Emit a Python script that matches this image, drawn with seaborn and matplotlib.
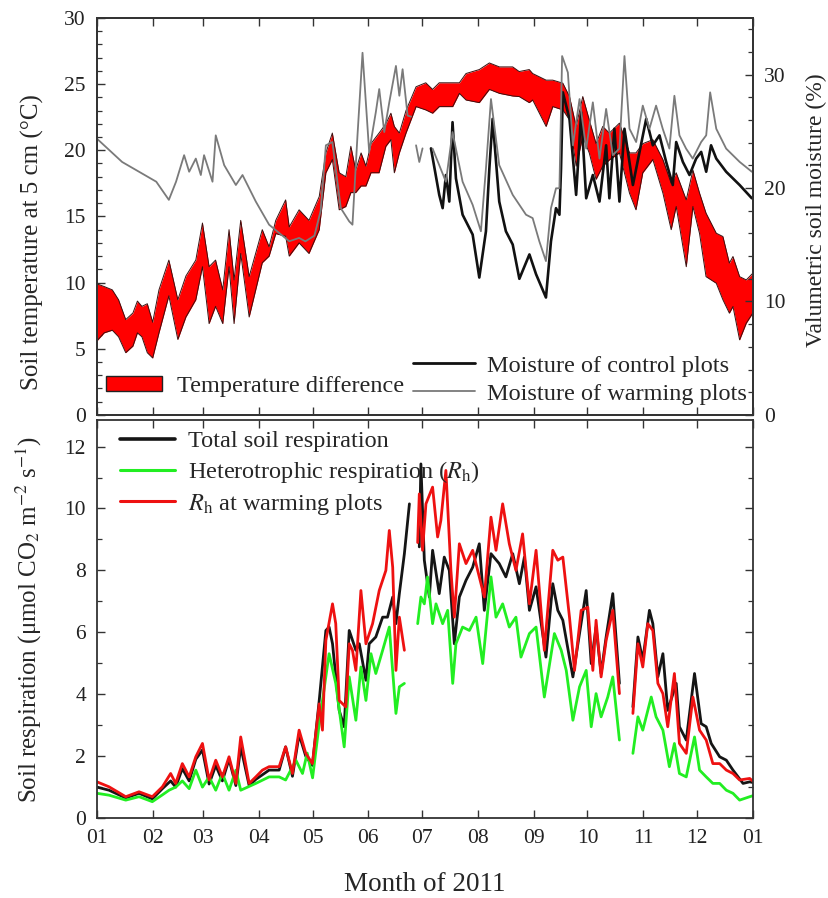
import numpy as np
import pandas as pd
import matplotlib
matplotlib.use("Agg")
import matplotlib.pyplot as plt
import seaborn as sns
from matplotlib.lines import Line2D
from matplotlib.patches import Patch
from matplotlib.ticker import MultipleLocator

nan = np.nan

# ---------------- x axis: months of 2011 (day of year) ----------------
month_days = [0, 31, 59, 90, 120, 151, 181, 212, 243, 273, 304, 334, 365]
month_labels = ["01", "02", "03", "04", "05", "06", "07", "08", "09", "10", "11", "12", "01"]

# ---------------- soil temperature at 5 cm (deg C) ----------------
temp_days = [0, 4, 8.5, 12, 16, 20, 22.5, 25, 28, 31, 34.5, 40, 45, 49.5, 55, 58.7, 62.4, 66, 70,
             73.5, 76.3, 80, 84.7, 92, 95.8, 99.5, 105, 107, 112.5, 118, 123.7, 127.4, 131, 134.8,
             138.5, 141.3, 144, 147, 149.7, 152.5, 157, 160.8, 163.6, 165.5, 168.3, 172, 177.6, 183,
             186.8, 190.5, 198, 201.7, 205.4, 212.8, 218.4, 224, 231.4, 235, 240.6, 242.5, 250,
             253.7, 259.3, 263, 266.7, 270.4, 274, 277.8, 281.5, 285.2, 290.8, 296.4, 300, 303.8,
             309.4, 315, 319.6, 322.4, 328, 331.7, 335.4, 339, 344.7, 348.4, 352, 354, 357.7, 361.4, 365]
temp_warming = [9.9, 9.7, 9.45, 8.7, 7.2, 7.7, 8.6, 8.2, 8.4, 7.0, 9.45, 11.7, 8.7, 10.5, 11.7, 14.5,
                11.2, 11.7, 9.45, 14.0, 10.2, 14.7, 10.45, 14.0, 12.7, 14.7, 16.25, 14.2, 15.5, 14.7,
                16.5, 19.8, 21.3, 18.3, 18.0, 20.3, 18.5, 19.8, 18.8, 20.5, 21.3, 22.0, 22.8, 21.8,
                21.3, 23.0, 24.8, 25.1, 24.6, 25.1, 25.1, 25.1, 25.8, 26.1, 26.6, 26.3, 26.3, 25.95,
                26.1, 25.8, 25.3, 25.3, 25.07, 24.06, 21.8, 24.06, 22.3, 20.5, 21.8, 21.3, 22.05, 19.8,
                19.8, 20.5, 20.8, 19.3, 17.5, 18.3, 16.25, 18.5, 16.76, 15.25, 13.73, 13.48, 11.47,
                11.97, 10.45, 10.2, 10.7]
temp_control = [5.6, 6.2, 6.4, 5.9, 4.7, 5.2, 6.2, 5.9, 4.7, 4.3, 6.2, 9.0, 5.7, 7.4, 8.7, 11.2, 6.9,
                8.2, 6.9, 11.2, 6.9, 12.2, 7.4, 11.5, 12.0, 13.7, 13.5, 12.0, 13.0, 12.2, 14.0, 18.3,
                19.3, 15.5, 15.75, 16.8, 16.8, 17.3, 17.3, 18.3, 18.3, 20.3, 20.8, 18.3, 19.8, 21.3,
                23.3, 23.05, 22.8, 23.3, 23.3, 24.3, 23.8, 23.6, 24.6, 24.3, 24.1, 24.06, 23.6, 23.8,
                21.8, 23.3, 23.05, 22.3, 18.8, 21.04, 19.8, 17.8, 18.8, 19.27, 19.8, 16.76, 15.5, 18.3,
                19.3, 16.76, 14.0, 15.75, 11.2, 15.75, 13.7, 10.45, 9.95, 8.7, 7.69, 8.19, 5.67, 6.93, 7.69]

# ---------------- volumetric soil moisture (%)  (nan = gap) ----------------
moist_warm_days = [0, 14, 33, 40, 44, 48.5, 51.3, 55, 57.8, 59.6, 64.3, 66.1, 70.8, 77.3, 81, 88.4,
                   95.8, 107, 112.5, 116, 121, 124.5, 127.4, 131, 135.7, 140.4, 142.2, 145, 147.8,
                   151.5, 155.2, 157.1, 159.9, 162.7, 166.4, 168.3, 170.1, 172.9, 174.8, 176,
                   177.6, 179.4, 181.2, 184,
                   186.8, 194.2, 197.9, 203.5, 209.1, 213.7, 216.5, 219.3, 223.9, 231.4, 238.8, 242.5,
                   246.2, 249.9, 252.7, 255.5, 257.4, 258.9, 262.1, 264.9, 268.6, 272.3, 276, 279.7,
                   283.4, 287.1, 290.8, 293.6, 296.4, 300.1, 303.8, 307.5, 311.2, 314.9, 318.6, 321.4,
                   324.2, 327.9, 331.6, 336.3, 339.1, 341.3, 344.7, 350.2, 357.7, 364.5]
moist_warm = [24.35, 22.3, 20.56, 18.96, 20.56, 22.9, 21.44, 22.6, 21.15, 22.9, 20.56, 24.65, 22.02,
              20.27, 21.15, 18.81, 16.77, 15.31, 15.6, 15.3, 15.8, 18.0, 23.77, 24.06, 18.23, 17.06,
              16.77, 24.65, 31.93, 23.19, 26.69, 28.73, 24.94, 27.56, 30.77, 28.14, 30.48, 26.39,
              26.3, nan,
              23.77, 22.3, 23.5, nan,
              23.48, 20.56, 24.94, 20.56, 18.52, 16.19, 21.73, 27.85, 22.02, 19.4, 17.65, 17.35,
              15.31, 13.56, 18.23, 19.98, 19.98, 31.64, 30.19, 23.77, 27.85, 23.48, 27.56, 22.6,
              26.98, 22.9, 23.48, 31.64, 25.23, 24.06, 27.27, 25.23, 27.27, 25.23, 23.48, 28.14,
              24.65, 23.48, 22.6, 24.06, 24.65, 28.44, 25.23, 23.48, 22.31, 21.44]
moist_ctrl_days = [185.9, 190.5, 192.4, 194.2, 196.1, 197.9, 199.8, 203.5, 209.1, 212.8, 216.5,
                   218.4, 220.2, 223.9, 227.6, 231.4, 235.1, 240.7, 244.4, 249.9, 252.7, 255.5,
                   257.4, 258.3, 259.3, 263, 266.7, 269.5, 272.3, 276, 279.7, 283.4, 285.2, 288,
                   290.8, 293.6, 298.3, 302, 305.7, 309.4, 313.1, 316.8, 320.5, 322.4, 326.1, 329.8,
                   333.5, 336.3, 339.1, 341.8, 344.7, 350.2, 357.7, 364.5]
moist_ctrl = [23.5, 19.4, 18.23, 21.15, 18.81, 25.81, 20.85, 17.65, 15.9, 12.11, 16.19, 21.73, 26.1,
              18.81, 16.19, 15.02, 12.0, 14.15, 12.4, 10.35, 15.31, 18.23, 17.65, 21.73, 28.44, 26.1,
              19.4, 26.69, 19.1, 21.15, 18.81, 23.77, 19.1, 25.23, 18.81, 25.23, 20.27, 23.19, 26.1,
              23.77, 24.65, 22.31, 20.27, 24.06, 22.31, 21.15, 22.6, 23.19, 21.44, 23.77, 22.6,
              21.44, 20.27, 19.1]

# ---------------- soil respiration (umol CO2 m-2 s-1)  (nan = gap) ----------------
rs_total_days = [0, 6.7, 16, 23.4, 30.8, 36.4, 41, 43.8, 47.5, 51.3, 55, 58.7, 62.4, 66.1, 69.8,
                 73.5, 77.3, 80, 84.7, 88.4, 92.1, 95.8, 101.4, 105, 108.8, 112.5, 116.2, 119.9,
                 123.7, 127.4, 129.2, 131.1, 134.8, 137.6, 140.4, 144.1, 146, 149.7, 151.5, 155.2,
                 159, 161.7, 164.6, 166.4, 168.3, 171.1, 173.9, 176,
                 179.4, 180.3, 182.2, 185, 186.8, 190.5, 193.3, 196.1, 198.9, 201.7, 205.4, 209.1,
                 212.8, 215.6, 219.3, 223.9, 227.6, 231.4, 235.1, 237.9, 240.7, 244.4, 249.9, 253.7,
                 256.5, 259.3, 264.9, 267.7, 272.3, 275.1, 277.8, 280.6, 283.4, 287.1, 290.8, 294,
                 298.3, 301.1, 303.8, 307.5, 309.4, 312.2, 315, 317.7, 322.4, 324.2, 328, 332.6,
                 336.3, 339.1, 341.9, 346.6, 350.3, 354, 359.6, 363.3, 365]
rs_total = [1.0, 0.9, 0.65, 0.8, 0.62, 0.95, 1.2, 1.0, 1.6, 1.2, 1.9, 2.2, 1.1, 1.7, 1.2, 1.9, 1.05,
            2.3, 1.05, 1.25, 1.4, 1.55, 1.55, 2.3, 1.35, 2.7, 2.0, 1.7, 3.8, 6.06, 6.17, 5.63, 3.48,
            2.95, 6.06, 5.42, 5.63, 4.45, 5.63, 5.85, 6.49, 6.49, 7.14, 6.28, 7.25, 8.54, 10.15, nan,
            8.76, 11.44, 8.33, 7.14, 8.65, 7.25, 8.43, 8.0, 5.63, 7.14, 7.68, 8.1, 8.86, 6.71, 8.54,
            8.22, 7.79, 8.54, 7.57, 8.43, 6.71, 7.47, 5.2, 7.57, 6.71, 6.39, 4.56, 5.63, 7.35, 4.99,
            6.17, 4.67, 5.85, 7.25, 4.35, nan,
            3.59, 5.85, 5.1, 6.71, 6.28, 4.56, 5.31, 3.48, 4.35, 2.95, 2.52, 4.67, 3.05, 2.95, 2.41,
            1.98, 1.87, 1.55, 1.12, 1.17, 1.15]
rh_ctrl_days = [0, 6.7, 16, 23.4, 30.8, 36.4, 40.1, 43.8, 47.5, 51.3, 55, 58.7, 62.4, 66.1, 69.8,
                73.5, 77.3, 80, 88.4, 95.8, 101.4, 105, 110.7, 114.4, 117, 120, 123.7, 129.2, 132.9,
                137.6, 140.4, 144.1, 146.9, 149.7, 152.5, 155.2, 159, 162.7, 166.4, 168.3, 171.1, 175,
                178.5, 180.3, 182.2, 184, 186.8, 188.7, 192.4, 195.2, 198, 199.8, 203.5, 207.3, 211,
                214.7, 219.3, 222.1, 225.8, 229.5, 233.2, 236, 240.7, 244.4, 249, 254.6, 258.4,
                261.2, 264.9, 268.6, 272.3, 275.1, 277.8, 280.6, 284.3, 287.1, 290.8, 294,
                298.3, 301.1, 303.8, 308.5, 311.2, 315, 318.6, 321.4, 324.2, 328, 332.6, 335.4,
                339.1, 342.8, 346.6, 350.3, 354, 357.7, 363.3, 365]
rh_ctrl = [0.8, 0.74, 0.58, 0.69, 0.53, 0.75, 0.9, 1.0, 1.2, 0.95, 1.55, 1.0, 1.33, 0.9, 1.44, 0.9,
           1.55, 0.9, 1.12, 1.33, 1.33, 1.23, 1.87, 1.44, 2.1, 1.3, 3.05, 5.31, 4.35, 2.3, 4.56,
           3.16, 4.88, 3.8, 5.31, 4.67, 5.42, 6.17, 3.38, 4.24, 4.35, nan,
           6.28, 7.14, 6.92, 7.79, 6.28, 6.92, 6.28, 6.71, 4.35, 5.63, 6.17, 6.06, 6.49, 4.99,
           7.79, 6.49, 6.92, 6.17, 6.49, 5.2, 5.96, 6.17, 3.91, 5.96, 5.42, 4.77, 3.16, 4.24,
           4.77, 2.95, 4.02, 3.27, 3.91, 4.56, 2.52, nan,
           2.09, 3.27, 2.84, 3.91, 3.27, 2.84, 1.66, 2.41, 1.44, 1.33, 2.62, 1.55, 1.33, 1.12,
           1.12, 0.9, 0.8, 0.58, 0.69, 0.72]
rh_warm_days = [0, 6.7, 16, 23.4, 30.8, 36.4, 41, 43.8, 47.5, 51.3, 55, 58.7, 62.4, 66.1, 69.8,
                73.5, 77.3, 80, 84.7, 88.4, 92.1, 95.8, 101.4, 105, 108.8, 112.5, 116.2, 119.9,
                123.7, 125.5, 127.4, 131.1, 132.9, 134.8, 138.5, 140.4, 142.2, 144.1, 146.9, 149.7,
                153.4, 157.1, 160.8, 162.7, 164.6, 166.4, 168.3, 171.1, 175,
                178.5, 179.4, 181.2, 183.1, 186.8, 189.6, 191.4, 194.2, 197, 198.9, 201.7, 205.4,
                209.1, 212.8, 215.6, 219.3, 222.1, 225.8, 229.5, 233.2, 236.9, 240.7, 244.4, 249,
                253.7, 256.5, 259.3, 263, 265.8, 269.5, 273.2, 276, 277.8, 280.6, 283.4, 287.1,
                290.8, 294,
                298.3, 301.1, 303.8, 306.6, 309.4, 312.2, 315, 317.7, 321.4, 324.2, 328, 331.7,
                335.4, 339.1, 342.8, 346.6, 350.3, 354, 357.7, 363.3, 365]
rh_warm = [1.17, 1.01, 0.69, 0.85, 0.69, 1.01, 1.44, 1.12, 1.76, 1.33, 1.98, 2.41, 1.23, 1.87, 1.33,
           1.98, 1.12, 2.62, 1.12, 1.33, 1.55, 1.66, 1.66, 2.3, 1.44, 2.84, 2.09, 1.76, 3.69, 2.84,
           5.74, 6.92, 6.28, 3.8, 3.59, 5.63, 5.42, 4.77, 7.35, 5.63, 6.28, 7.35, 8.0, 9.29, 8.1,
           4.77, 6.49, 5.42, nan,
           8.9, 10.47, 8.65, 10.15, 10.69, 9.08, 9.61, 11.23, 8.0, 6.49, 8.86, 8.22, 8.65, 7.79,
           7.14, 9.72, 8.65, 10.15, 8.86, 8.0, 9.18, 6.92, 8.65, 5.42, 8.65, 8.33, 8.43, 6.49,
           4.77, 6.71, 6.81, 4.77, 6.39, 4.56, 5.74, 6.71, 4.02, nan,
           3.38, 5.63, 4.88, 6.28, 6.06, 4.35, 4.02, 2.95, 4.67, 2.41, 2.09, 3.91, 2.84, 2.52,
           1.76, 1.76, 1.55, 1.44, 1.23, 1.28, 1.2]


def segments(days, vals):
    v = np.asarray(vals, float)
    df = pd.DataFrame({"day": np.asarray(days, float), "val": v, "seg": np.cumsum(np.isnan(v))})
    return df.dropna()


sns.set_style("ticks")
plt.rcParams["font.family"] = ["Liberation Serif", "DejaVu Serif"]
plt.rcParams["mathtext.fontset"] = "stix"

fig = plt.figure(figsize=(8.29, 8.98), dpi=100)
ax1 = fig.add_axes([0.117, 0.538, 0.791, 0.442])
ax3 = fig.add_axes([0.117, 0.089, 0.791, 0.443])
ax2 = ax1.twinx()

# ---- top panel: temperature band ----
tdf = pd.DataFrame({"day": temp_days, "warm": temp_warming, "ctrl": temp_control})
ax1.fill_between(tdf["day"], tdf["ctrl"], tdf["warm"], color="#ff0000", lw=0)
sns.lineplot(data=tdf, x="day", y="warm", ax=ax1, color="#3a1010", lw=0.7, estimator=None)
sns.lineplot(data=tdf, x="day", y="ctrl", ax=ax1, color="#3a1010", lw=0.7, estimator=None)

# ---- moisture on twin axis ----
sns.lineplot(data=segments(moist_ctrl_days, moist_ctrl), x="day", y="val", units="seg",
             estimator=None, ax=ax2, color="#111111", lw=1.9)
sns.lineplot(data=segments(moist_warm_days, moist_warm), x="day", y="val", units="seg",
             estimator=None, ax=ax2, color="#7a7a7a", lw=1.3)

# ---- bottom panel: respiration ----
sns.lineplot(data=segments(rs_total_days, rs_total), x="day", y="val", units="seg",
             estimator=None, ax=ax3, color="#151515", lw=2.0)
sns.lineplot(data=segments(rh_ctrl_days, rh_ctrl), x="day", y="val", units="seg",
             estimator=None, ax=ax3, color="#22ee22", lw=2.0)
sns.lineplot(data=segments(rh_warm_days, rh_warm), x="day", y="val", units="seg",
             estimator=None, ax=ax3, color="#ee1111", lw=2.0)

FS_TICK = 15.5
FS_LAB = 18
FS_LEG = 17.5

for ax in (ax1, ax3):
    ax.set_xlim(0, 365)
    ax.set_xticks(month_days)
    ax.set_xticklabels(month_labels)
ax1.tick_params(axis="x", labelbottom=False)

ax1.set_ylim(0, 30)
ax1.yaxis.set_major_locator(MultipleLocator(5))
ax1.yaxis.set_minor_locator(MultipleLocator(1))
ax2.set_ylim(0, 35)
ax2.set_yticks([0, 10, 20, 30])
ax2.yaxis.set_minor_locator(MultipleLocator(2))
ax3.set_ylim(0, 12.85)
ax3.set_yticks([0, 2, 4, 6, 8, 10, 12])
ax3.yaxis.set_minor_locator(MultipleLocator(1))

for ax in (ax1, ax2, ax3):
    for s in ax.spines.values():
        s.set_linewidth(1.3)
        s.set_color("#333333")
    ax.tick_params(which="both", direction="in", colors="#333333", labelcolor="#222222",
                   labelsize=FS_TICK, pad=8)
    ax.tick_params(which="major", length=6, width=1.0)
    ax.tick_params(which="minor", length=3.5, width=0.9)
ax1.tick_params(axis="both", top=True, right=False)
ax1.tick_params(axis="y", which="minor", right=False)
ax2.tick_params(axis="y", which="both", left=False, right=True)
ax3.tick_params(axis="both", which="both", top=True, right=True)
ax3.tick_params(axis="x", which="minor", top=False, bottom=False)
ax1.tick_params(axis="x", which="minor", top=False, bottom=False)

ax1.set_xlabel("")
ax2.set_xlabel("")
ax1.set_ylabel("Soil temperature at 5 cm (°C)", fontsize=FS_LAB)
ax1.yaxis.set_label_coords(-0.081, 0.436)
ax2.set_ylabel("Valumetric soil moisture (%)", fontsize=17)
ax2.yaxis.set_label_coords(1.081, 0.516)
ax3.set_ylabel("Soil respiration (μmol CO$_2$ m$^{-2}$ s$^{-1}$)", fontsize=FS_LAB)
ax3.yaxis.set_label_coords(-0.081, 0.5)
ax3.set_xlabel("Month of 2011", fontsize=19.5)
ax3.xaxis.set_label_coords(0.5, -0.135)

# ---- legends ----
leg_t = ax2.legend(handles=[Patch(facecolor="#ff0000", edgecolor="#222222", lw=1.0)],
                   labels=["Temperature difference"], loc="lower left",
                   bbox_to_anchor=(0.014, 0.045), frameon=False, fontsize=FS_LEG,
                   handlelength=2.3, handleheight=0.55, handletextpad=0.6,
                   borderpad=0, borderaxespad=0)
ax2.add_artist(leg_t)
ax2.legend(handles=[Line2D([], [], color="#111111", lw=2.0), Line2D([], [], color="#7a7a7a", lw=1.3)],
           labels=["Moisture of control plots", "Moisture of warming plots"], loc="lower left",
           bbox_to_anchor=(0.482, 0.025), frameon=False, fontsize=FS_LEG, handlelength=2.55,
           handletextpad=0.5, labelspacing=0.25, borderpad=0, borderaxespad=0)

ax3.legend(handles=[Line2D([], [], color="#151515", lw=2.6), Line2D([], [], color="#22ee22", lw=2.2),
                    Line2D([], [], color="#ee1111", lw=2.2)],
           labels=["Total soil respiration", "Heterotrophic respiration ($R_\\mathrm{h}$)",
                   "$R_\\mathrm{h}$ at warming plots"],
           loc="upper left", bbox_to_anchor=(0.035, 0.975), frameon=False, fontsize=FS_LEG,
           handlelength=2.26, handletextpad=0.55, labelspacing=0.28, borderpad=0, borderaxespad=0)

fig.savefig("out.png", dpi=100)
